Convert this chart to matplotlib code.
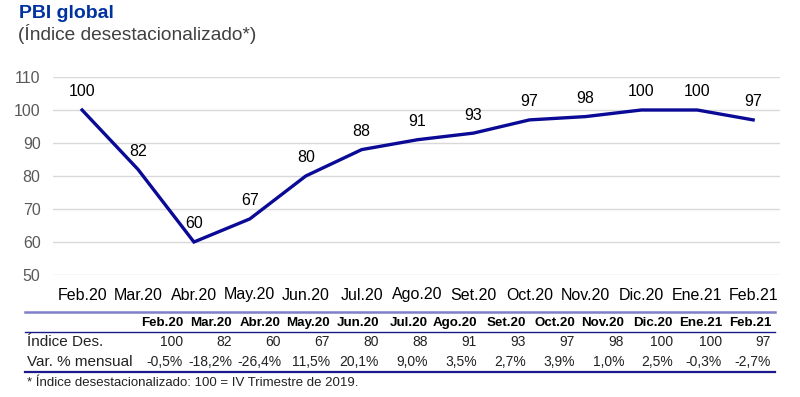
import matplotlib
matplotlib.use("Agg")
from matplotlib import pyplot as plt
from matplotlib.lines import Line2D

plt.rcParams['font.family'] = ['Liberation Sans', 'DejaVu Sans']

# Datos
meses = ['Feb.20', 'Mar.20', 'Abr.20', 'May.20', 'Jun.20', 'Jul.20', 'Ago.20',
         'Set.20', 'Oct.20', 'Nov.20', 'Dic.20', 'Ene.21', 'Feb.21']
cabecera = ['Feb.20', 'Mar.20', 'Abr.20', 'May.20', 'Jun.20', 'Jul.20', 'Ago.20',
            'Set.20', 'Oct.20', 'Nov.20', 'Dic.20', 'Ene.21', 'Feb.21']
indice = [100, 82, 60, 67, 80, 88, 91, 93, 97, 98, 100, 100, 97]
var_mensual = [-0.5, -18.2, -26.4, 11.5, 20.1, 9.0, 3.5, 2.7, 3.9, 1.0, 2.5, -0.3, -2.7]
yticks = [50, 60, 70, 80, 90, 100, 110]

W, H = 800, 397
fig = plt.figure(figsize=(W / 100, H / 100), dpi=100)


def fy(y):
    # pixel (desde arriba) a fraccion de figura
    return 1 - y / H


def fx(x):
    return x / W


# Grafico de linea
ax = fig.add_axes([fx(53), fy(275), fx(780) - fx(53), fy(77) - fy(275)])
x = list(range(len(meses)))
ax.plot(x, indice, color='#0a0a96', lw=2.4, solid_joinstyle='miter')
for xi, v in zip(x, indice):
    ax.annotate(f'{v}', (xi, v), xytext=(0, 13), textcoords='offset points',
                ha='center', va='center', fontsize=11.5, color='black')

ax.set_xlim(-0.52, 12.48)
ax.set_ylim(50, 110)
ax.set_yticks(yticks)
ax.set_xticks(x)
ax.set_xticklabels(meses, fontsize=11.5, color='black')
ax.tick_params(axis='y', labelsize=11.5, labelcolor='#595959', length=0, pad=9)
ax.tick_params(axis='x', length=0, pad=9)
ax.grid(axis='y', color='#d9d9d9', lw=1)
ax.set_axisbelow(True)
for s in ax.spines.values():
    s.set_visible(False)

# Titulo
fig.text(fx(19), fy(13), 'PBI global', fontsize=14, fontweight='bold',
         color='#0033a0', va='center', ha='left')
fig.text(fx(18), fy(34), '(Índice desestacionalizado*)', fontsize=13.8,
         color='#404040', va='center', ha='left')

# Tabla
fig.add_artist(Line2D([fx(25), fx(775)], [fy(312), fy(312)], color='#8080c8', lw=1.8))
fig.add_artist(Line2D([fx(25), fx(775)], [fy(332), fy(332)], color='#1a1a8c', lw=1.0))
fig.add_artist(Line2D([fx(25), fx(775)], [fy(372), fy(372)], color='#1a1a8c', lw=1.6))

for i, m in enumerate(cabecera):
    xr = 183 + 49 * i
    fig.text(fx(xr), fy(323), m, fontsize=9.6, fontweight='bold', ha='right',
             va='center', color='black')
    fig.text(fx(xr), fy(342), f'{indice[i]}', fontsize=10, ha='right',
             va='center', color='#222222')
    txt = f'{var_mensual[i]:.1f}%'.replace('.', ',')
    fig.text(fx(xr), fy(362), txt, fontsize=10, ha='right', va='center',
             color='#222222')

fig.text(fx(27), fy(342), 'Índice Des.', fontsize=11, ha='left', va='center',
         color='#222222')
fig.text(fx(27), fy(362), 'Var. % mensual', fontsize=11, ha='left', va='center',
         color='#222222')
fig.text(fx(27), fy(383), '* Índice desestacionalizado: 100 = IV Trimestre de 2019.',
         fontsize=9.5, ha='left', va='center', color='#222222')

fig.savefig('out.png', dpi=100)
